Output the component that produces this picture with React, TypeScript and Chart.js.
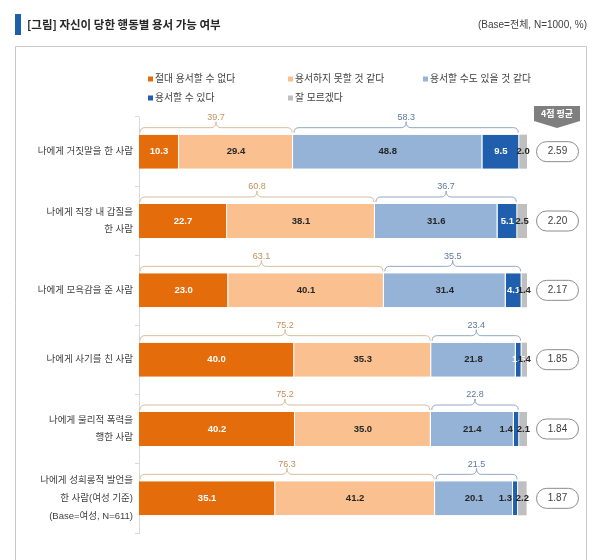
import React, { useEffect, useRef } from "react";
import { Chart, registerables } from "chart.js";
Chart.register(...registerables);

const categories = [
  ["나에게 거짓말을 한 사람"],
  ["나에게 직장 내 갑질을", "한 사람"],
  ["나에게 모욕감을 준 사람"],
  ["나에게 사기를 친 사람"],
  ["나에게 물리적 폭력을", "행한 사람"],
  ["나에게 성희롱적 발언을", "한 사람(여성 기준)", "(Base=여성, N=611)"],
];
const seriesNames = [
  "절대 용서할 수 없다",
  "용서하지 못할 것 같다",
  "용서할 수도 있을 것 같다",
  "용서할 수 있다",
  "잘 모르겠다",
];
const neverForgive = [10.3, 22.7, 23.0, 40.0, 40.2, 35.1];
const cannotForgive = [29.4, 38.1, 40.1, 35.3, 35.0, 41.2];
const mightForgive = [48.8, 31.6, 31.4, 21.8, 21.4, 20.1];
const canForgive = [9.5, 5.1, 4.1, 1.5, 1.4, 1.3];
const dontKnow = [2.0, 2.5, 1.4, 1.4, 2.1, 2.2];
const unforgivingTotals = ["39.7", "60.8", "63.1", "75.2", "75.2", "76.3"];
const forgivingTotals = ["58.3", "36.7", "35.5", "23.4", "22.8", "21.5"];
const meanScores = ["2.59", "2.20", "2.17", "1.85", "1.84", "1.87"];

const titleText = "[그림] 자신이 당한 행동별 용서 가능 여부";
const baseNote = "(Base=전체, N=1000, %)";
const meanHeader = "4점 평균";

const COLORS = ["#E46C0A", "#FAC08F", "#95B3D7", "#1F5FAD", "#BFBFBF"];
const LABEL_COLORS = ["#ffffff", "#262626", "#262626", "#ffffff", "#262626"];
const FONT = "'Liberation Sans', 'Noto Sans CJK KR', sans-serif";
const KFONT = "'Noto Sans CJK KR', sans-serif";

function brace(ctx: CanvasRenderingContext2D, x0: number, x1: number, top: number) {
  const yb = top - 2;
  const yh = top - 7;
  const yp = top - 13;
  const r = 5;
  const xm = (x0 + x1) / 2;
  ctx.beginPath();
  ctx.moveTo(x0, yb);
  ctx.quadraticCurveTo(x0, yh, x0 + r, yh);
  ctx.lineTo(xm - r, yh);
  ctx.quadraticCurveTo(xm, yh, xm, yp);
  ctx.quadraticCurveTo(xm, yh, xm + r, yh);
  ctx.lineTo(x1 - r, yh);
  ctx.quadraticCurveTo(x1, yh, x1, yb);
  ctx.stroke();
}

function pill(ctx: CanvasRenderingContext2D, x: number, y: number, w: number, h: number) {
  const r = h / 2;
  ctx.beginPath();
  ctx.moveTo(x + r, y);
  ctx.lineTo(x + w - r, y);
  ctx.arc(x + w - r, y + r, r, -Math.PI / 2, Math.PI / 2);
  ctx.lineTo(x + r, y + h);
  ctx.arc(x + r, y + r, r, Math.PI / 2, (3 * Math.PI) / 2);
  ctx.closePath();
}

const decorPlugin = {
  id: "decor",
  beforeDraw(chart: any) {
    const ctx: CanvasRenderingContext2D = chart.ctx;
    ctx.save();
    ctx.fillStyle = "#ffffff";
    ctx.fillRect(0, 0, 600, 560);
    // title bar
    ctx.fillStyle = "#1F5FA6";
    ctx.fillRect(15, 14, 6, 21);
    ctx.fillStyle = "#262626";
    ctx.font = `bold 11.5px ${KFONT}`;
    ctx.textAlign = "left";
    ctx.textBaseline = "middle";
    ctx.fillText(titleText, 27, 25);
    ctx.font = `10px ${FONT}`;
    ctx.fillStyle = "#404040";
    ctx.textAlign = "right";
    ctx.fillText(baseNote, 587, 25);
    // box
    ctx.strokeStyle = "#c8c8c8";
    ctx.lineWidth = 1;
    ctx.beginPath();
    ctx.moveTo(15.5, 570);
    ctx.lineTo(15.5, 46.5);
    ctx.lineTo(586.5, 46.5);
    ctx.lineTo(586.5, 570);
    ctx.stroke();
    // legend
    const pos = [
      [148, 79],
      [288, 79],
      [423, 79],
      [148, 98],
      [288, 98],
    ];
    ctx.font = `9.8px ${FONT}`;
    ctx.textAlign = "left";
    seriesNames.forEach((name, i) => {
      const [x, y] = pos[i];
      ctx.fillStyle = COLORS[i];
      ctx.fillRect(x, y - 2.5, 5, 5);
      ctx.fillStyle = "#404040";
      ctx.fillText(name, x + 7, y);
    });
    ctx.restore();
  },
  afterDatasetsDraw(chart: any) {
    const ctx: CanvasRenderingContext2D = chart.ctx;
    const xs = chart.scales.x;
    ctx.save();
    ctx.textBaseline = "middle";
    // data labels
    for (let i = 0; i < 5; i++) {
      const meta = chart.getDatasetMeta(i);
      const data = chart.data.datasets[i].data as number[];
      meta.data.forEach((bar: any, j: number) => {
        const v = data[j];
        const left = Math.min(bar.x, bar.base);
        const right = Math.max(bar.x, bar.base);
        ctx.font = `bold 9.5px ${FONT}`;
        if (i === 3 && v < 1.5) {
          ctx.fillStyle = "#262626";
          ctx.textAlign = "right";
          ctx.fillText(v.toFixed(1), left - 1, bar.y);
        } else {
          ctx.fillStyle = LABEL_COLORS[i];
          ctx.textAlign = "center";
          ctx.fillText(v.toFixed(1), (left + right) / 2, bar.y);
        }
      });
    }
    // braces and means
    const meta0 = chart.getDatasetMeta(0);
    meta0.data.forEach((bar: any, j: number) => {
      const top = bar.y - bar.height / 2;
      const s1 = neverForgive[j] + cannotForgive[j];
      const s2 = s1 + mightForgive[j] + canForgive[j];
      const x0 = xs.getPixelForValue(0);
      const x1 = xs.getPixelForValue(s1);
      const x2 = xs.getPixelForValue(s2);
      ctx.lineWidth = 1;
      ctx.strokeStyle = "#D9BC9C";
      brace(ctx, x0 + 1, x1 - 1, top);
      ctx.strokeStyle = "#93A9C6";
      brace(ctx, x1 + 1, x2 - 1, top);
      ctx.font = `9px ${FONT}`;
      ctx.textAlign = "center";
      ctx.fillStyle = "#C48E5C";
      ctx.fillText(unforgivingTotals[j], (x0 + x1) / 2, top - 17);
      ctx.fillStyle = "#5B78A0";
      ctx.fillText(forgivingTotals[j], (x1 + x2) / 2, top - 17);
      // mean pill
      pill(ctx, 536.5, bar.y - 10, 42, 20);
      ctx.fillStyle = "#ffffff";
      ctx.fill();
      ctx.strokeStyle = "#8c8c8c";
      ctx.stroke();
      ctx.fillStyle = "#404040";
      ctx.font = `10px ${FONT}`;
      ctx.fillText(meanScores[j], 557.5, bar.y);
    });
    // mean header
    ctx.fillStyle = "#7F7F7F";
    ctx.beginPath();
    ctx.moveTo(534, 106);
    ctx.lineTo(580, 106);
    ctx.lineTo(580, 121);
    ctx.lineTo(557, 128);
    ctx.lineTo(534, 121);
    ctx.closePath();
    ctx.fill();
    ctx.fillStyle = "#ffffff";
    ctx.font = `bold 9px ${KFONT}`;
    ctx.textAlign = "center";
    ctx.fillText(meanHeader, 557, 114);
    ctx.restore();
  },
};

export default function App() {
  const ref = useRef<HTMLCanvasElement>(null);
  useEffect(() => {
    const series = [neverForgive, cannotForgive, mightForgive, canForgive, dontKnow];
    const chart = new Chart(ref.current as HTMLCanvasElement, {
      type: "bar",
      data: {
        labels: categories as any,
        datasets: series.map((d, i) => ({
          label: seriesNames[i],
          data: d,
          backgroundColor: COLORS[i],
          borderColor: "#ffffff",
          borderWidth: i < 4 ? { top: 0, bottom: 0, left: 0, right: 1 } : 0,
          borderSkipped: false,
          barPercentage: 1,
          categoryPercentage: 0.49,
        })),
      },
      options: {
        indexAxis: "y",
        responsive: false,
        animation: false,
        devicePixelRatio: 1,
        layout: { padding: { top: 117, bottom: 27, left: 0, right: 73 } },
        plugins: {
          legend: { display: false },
          tooltip: { enabled: false },
          title: { display: false },
        },
        scales: {
          x: { display: false, stacked: true, min: 0, max: 100 },
          y: {
            stacked: true,
            afterFit: (scale: any) => {
              scale.width = 139;
            },
            border: { display: true, color: "#d9d9d9", width: 1 },
            grid: {
              display: true,
              drawOnChartArea: false,
              drawTicks: true,
              tickLength: 4,
              color: "#d9d9d9",
              offset: true,
            },
            ticks: {
              color: "#404040",
              padding: 2,
              font: { family: FONT, size: 9.5, lineHeight: 1.85 },
            },
          },
        },
      },
      plugins: [decorPlugin],
    } as any);
    return () => chart.destroy();
  }, []);
  return (
    <div style={{ position: "absolute", left: 0, top: 0, width: 600, height: 560, background: "#fff" }}>
      <canvas ref={ref} width={600} height={560} style={{ display: "block", width: 600, height: 560 }} />
    </div>
  );
}
